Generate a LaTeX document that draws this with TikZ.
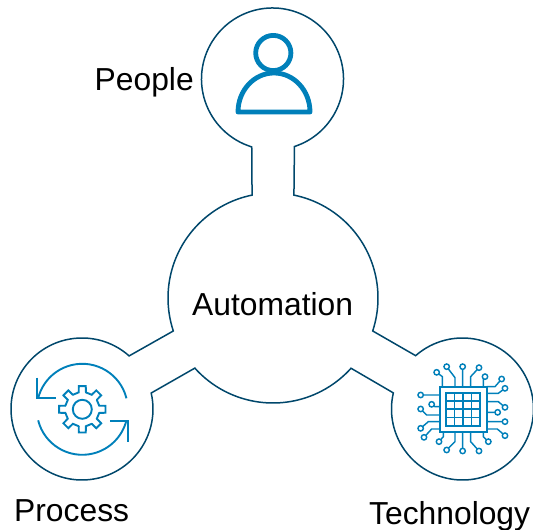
\documentclass[tikz,border=0pt]{standalone}
\usepackage{fontspec}
\usetikzlibrary{calc}
\setmainfont{Liberation Sans}
\definecolor{outline}{HTML}{00476B}
\definecolor{icon}{HTML}{0080BA}
\tikzset{
  outlineshape/.style={draw=outline,line width=1.5pt,line join=miter},
  iconline/.style={draw=icon,line width=1.9pt},
  personline/.style={draw=icon,line width=4.8pt,line join=round},
  chipline/.style={draw=icon,line width=1.45pt},
  textlabel/.style={anchor=base west,inner sep=0pt,font=\fontsize{31.8}{36}\selectfont,text=black},
}
\begin{document}
\begin{tikzpicture}[x=1pt,y=1pt]
\useasboundingbox (0,0) rectangle (533,530);
% centres (y up)
\coordinate (T) at (272.5,451);
\coordinate (B) at (273,232);
\coordinate (L) at (82,121);
\coordinate (R) at (462.5,121);
\def\rs{71pt}\def\rb{105pt}
% outline
\draw[outlineshape]
  ($(B)+(78.5:\rb)$) -- ($(T)+(288:\rs)$)
  arc[start angle=288,end angle=613,radius=\rs]
  -- ($(B)+(101.5:\rb)$)
  arc[start angle=101.5,end angle=198.3,radius=\rb]
  -- ($(L)+(48.4:\rs)$)
  arc[start angle=48.4,end angle=373,radius=\rs]
  -- ($(B)+(221.9:\rb)$)
  arc[start angle=221.9,end angle=318,radius=\rb]
  -- ($(R)+(166.9:\rs)$)
  arc[start angle=166.9,end angle=491.3,radius=\rs]
  -- ($(B)+(341.7:\rb)$)
  arc[start angle=341.7,end angle=438.5,radius=\rb]
  -- cycle;
% labels
\node[textlabel] (people) at (94.5,439) {People};
\node[textlabel] (automation) at (192,214.5) {Automation};
\node[textlabel] (process) at (14,8) {Process};
\node[textlabel] (technology) at (369,5.5) {Technology};
% person
\draw[personline] (273.3,477) circle[radius=17.6pt];
\draw[personline] (238,418) arc[start angle=180,end angle=0,x radius=36pt,y radius=39pt] -- cycle;
% process icon
\begin{scope}[shift={(82.3,120.7)}]
  \draw[iconline] (0,0) circle[radius=9.5pt];
  \foreach \a in {0,45,...,315} {
    \pgfmathsetmacro{\b}{\a+45}
    \draw[iconline,line cap=round,line join=miter]
      (\a-12:17.3pt) -- (\a-8.5:23.5pt) -- (\a+8.5:23.5pt) -- (\a+12:17.3pt) -- (\b-12:17.3pt);
  }
  \draw[iconline] (14:45.5pt) arc[start angle=14,end angle=166,radius=45.5pt];
  \draw[iconline] (194:45.5pt) arc[start angle=194,end angle=346,radius=45.5pt];
\end{scope}
\coordinate (a1) at (37.3,131.7);
\coordinate (a2) at (128.3,109.3);
\draw[iconline,line join=miter] ($(a1)+(0,20.6)$) -- (a1) -- ($(a1)+(18.4,0)$);
\draw[iconline,line join=miter] ($(a2)+(-18.4,0)$) -- (a2) -- ($(a2)+(0,-21)$);
% technology icon
\begin{scope}[shift={(410,175)},x=0.3333pt,y=-0.3333pt]
  \draw[draw=icon,line width=2.2pt] (90,95) rectangle (230,232);
  \draw[draw=icon,line width=1.8pt] (108,113) rectangle (210,212);
  \draw[chipline] (133.5,113) -- (133.5,212) (159,113) -- (159,212) (184.5,113) -- (184.5,212)
                  (108,138) -- (210,138) (108,162.5) -- (210,162.5) (108,187) -- (210,187);
  \draw[chipline]
    (80,52) -- (97,65) -- (97,95)
    (110,35) -- (135,68) -- (135,95)
    (158,35) -- (158,95)
    (207,38) -- (182,65) -- (182,95)
    (225,65) -- (220,75) -- (220,95)
    (275,72) -- (255,95) -- (230,95)
    (285,100) -- (265,115) -- (230,115)
    (285,157) -- (265,140) -- (230,140)
    (263,172) -- (230,172)
    (285,200) -- (230,200)
    (285,242) -- (262,222) -- (230,222)
    (235,260) -- (220,245) -- (220,232)
    (207,288) -- (182,260) -- (182,232)
    (158,288) -- (158,232)
    (110,285) -- (135,260) -- (135,232)
    (87,260) -- (100,245) -- (100,232)
    (32,120) -- (90,120)
    (65,148) -- (75,155) -- (90,155)
    (32,162) -- (50,180) -- (90,180)
    (32,220) -- (55,200) -- (90,200)
    (42,247) -- (65,222) -- (90,222);
  \foreach \px/\py in {80/52,110/35,158/35,207/38,225/65,275/72,285/100,285/157,263/172,285/200,285/242,235/260,207/288,158/288,110/285,87/260,32/120,65/148,32/162,32/220,42/247} {
    \draw[chipline,fill=white] (\px,\py) circle[radius=2.7pt];
  }
\end{scope}
\end{tikzpicture}
\end{document}
